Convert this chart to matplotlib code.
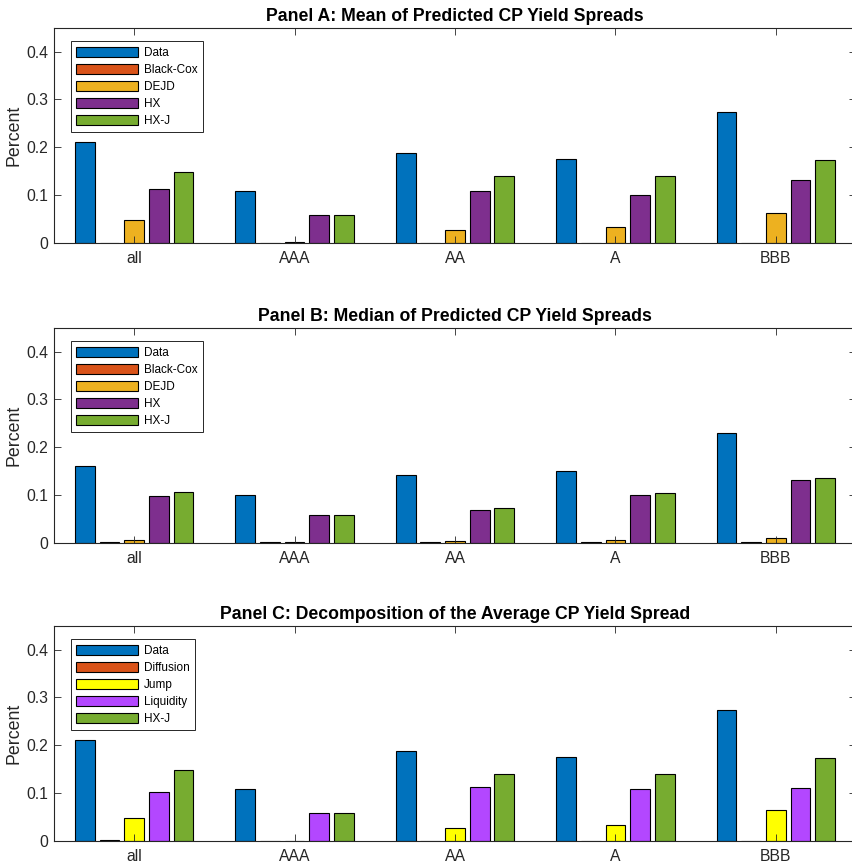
import matplotlib
matplotlib.use("Agg")
import matplotlib.pyplot as plt
import numpy as np

plt.rcParams['font.family'] = ['Liberation Sans', 'DejaVu Sans']

categories = ['all', 'AAA', 'AA', 'A', 'BBB']

# Panel A: mean predicted spreads (percent)
mean_data = [0.210, 0.109, 0.188, 0.175, 0.273]
mean_black_cox = [0.0002, 0.0002, 0.0002, 0.0002, 0.0002]
mean_dejd = [0.047, 0.001, 0.027, 0.032, 0.063]
mean_hx = [0.113, 0.057, 0.109, 0.099, 0.132]
mean_hxj = [0.149, 0.058, 0.139, 0.140, 0.173]

# Panel B: median predicted spreads (percent)
med_data = [0.160, 0.100, 0.141, 0.150, 0.230]
med_black_cox = [0.0006, 0.0006, 0.0006, 0.0006, 0.0006]
med_dejd = [0.005, 0.001, 0.004, 0.006, 0.010]
med_hx = [0.098, 0.057, 0.068, 0.099, 0.132]
med_hxj = [0.106, 0.057, 0.072, 0.105, 0.135]

# Panel C: decomposition of the average spread (percent)
dec_data = [0.210, 0.109, 0.188, 0.175, 0.273]
dec_diffusion = [0.0005, 0.0003, 0.0003, 0.0003, 0.0003]
dec_jump = [0.048, 0.0, 0.027, 0.032, 0.064]
dec_liquidity = [0.102, 0.058, 0.112, 0.108, 0.110]
dec_hxj = [0.149, 0.058, 0.139, 0.140, 0.174]

model_labels = ['Data', 'Black-Cox', 'DEJD', 'HX', 'HX-J']
decomp_labels = ['Data', 'Diffusion', 'Jump', 'Liquidity', 'HX-J']

model_colors = ['#0072BD', '#D95319', '#EDB120', '#7E2F8E', '#77AC30']
decomp_colors = ['#0072BD', '#D95319', '#FFFF00', '#B347FF', '#77AC30']

panels = [
    ('Panel A: Mean of Predicted CP Yield Spreads',
     [mean_data, mean_black_cox, mean_dejd, mean_hx, mean_hxj], model_labels, model_colors),
    ('Panel B: Median of Predicted CP Yield Spreads',
     [med_data, med_black_cox, med_dejd, med_hx, med_hxj], model_labels, model_colors),
    ('Panel C: Decomposition of the Average CP Yield Spread',
     [dec_data, dec_diffusion, dec_jump, dec_liquidity, dec_hxj], decomp_labels, decomp_colors),
]

W, H = 852, 866
fig = plt.figure(figsize=(W / 100, H / 100), dpi=100)

axis_color = '#262626'
left_px, right_px = 54, 856
tops_px = [27.7, 327.7, 625.7]
height_px = 215

n_series = 5
group_width = min(0.8, n_series / (n_series + 1.5))
step = group_width / n_series
bar_w = step * 0.8
x = np.arange(1, len(categories) + 1)

for (title, series, labels, colors), top in zip(panels, tops_px):
    ax = fig.add_axes([left_px / W, (H - top - height_px) / H,
                       (right_px - left_px) / W, height_px / H])
    for i, (vals, lab, col) in enumerate(zip(series, labels, colors)):
        offs = (i - (n_series - 1) / 2) * step
        ax.bar(x + offs, vals, width=bar_w, color=col, edgecolor='black',
               linewidth=0.8, label=lab, zorder=1)
    ax.set_axisbelow(False)
    ax.set_xlim(0.5, 5.5)
    ax.set_ylim(0, 0.45)
    ax.set_xticks(x)
    ax.set_xticklabels(categories)
    ax.set_yticks([0, 0.1, 0.2, 0.3, 0.4])
    ax.set_yticklabels(['0', '0.1', '0.2', '0.3', '0.4'])
    ax.tick_params(direction='in', length=5, width=0.6, colors=axis_color,
                   labelsize=11.3, top=True, right=True, pad=4)
    ax.tick_params(axis='x', pad=6)
    for sp in ax.spines.values():
        sp.set_color(axis_color)
        sp.set_linewidth(0.8)
        sp.set_zorder(3)
    ax.set_ylabel('Percent', fontsize=12.8, color=axis_color, labelpad=3)
    ax.set_title(title, fontsize=12.7, fontweight='bold', color='black', pad=5)
    leg = ax.legend(loc='upper left',
                    bbox_to_anchor=(16.5 / (right_px - left_px), 1 - 13.6 / height_px),
                    borderaxespad=0, fontsize=8.5, handlelength=5.3, handleheight=1.0,
                    labelspacing=0.4, handletextpad=0.45, borderpad=0.45,
                    fancybox=False, framealpha=1, edgecolor=axis_color)
    leg.set_zorder(5)
    leg.get_frame().set_linewidth(0.7)

fig.savefig('out.png', dpi=100)
